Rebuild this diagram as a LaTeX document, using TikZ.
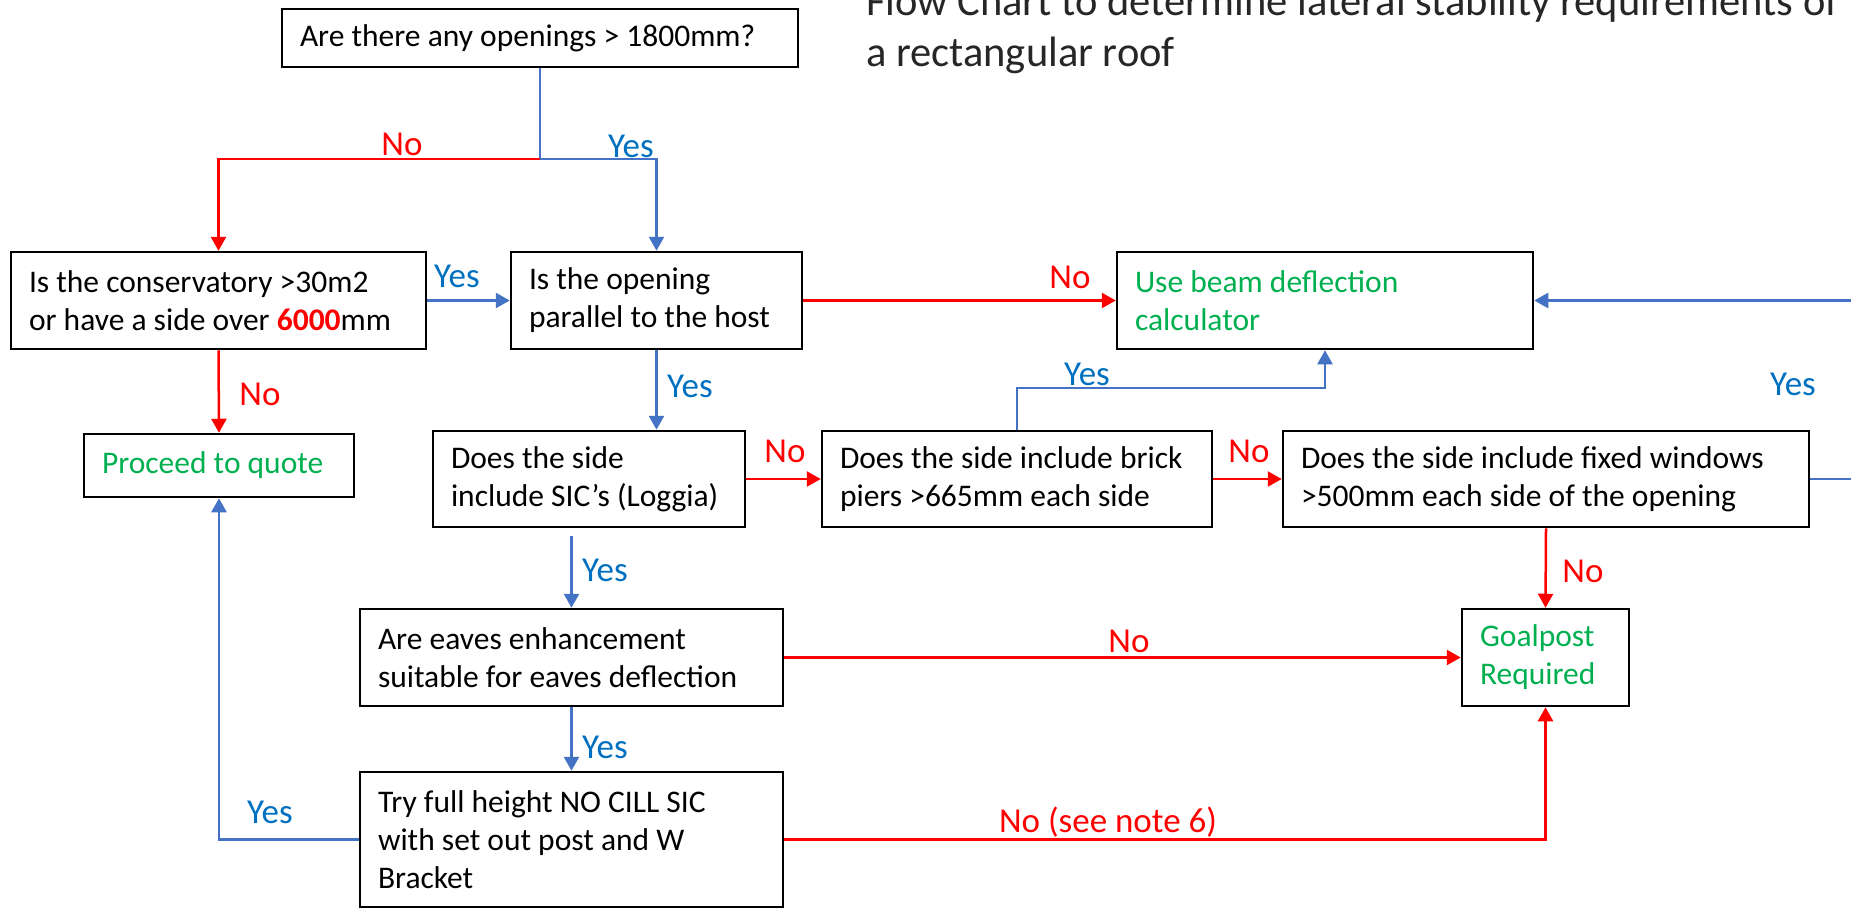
\documentclass[tikz,border=0pt]{standalone}
\usepackage{fontspec}
\setmainfont{Carlito}
\usetikzlibrary{arrows.meta,positioning,calc}
\definecolor{yesblue}{HTML}{4472C4}
\definecolor{yestext}{HTML}{0070C0}
\definecolor{goodgreen}{HTML}{00B050}

\begin{document}
\begin{tikzpicture}[
    x=1pt, y=-1pt,
    box/.style={rectangle, draw=black, line width=2.5pt, align=flush left, inner xsep=18pt, inner ysep=0pt, font=\fontsize{31.5}{38}\selectfont},
    good/.style={box, text=goodgreen},
    yesline/.style={draw=yesblue, line width=2.5pt},
    yesarrow/.style={yesline, -{Triangle[length=14pt, width=15pt]}},
    noarrow/.style={draw=red, line width=2.5pt, -{Triangle[length=14pt, width=15pt]}},
    yeslabel/.style={text=yestext, anchor=base, inner sep=0pt, font=\fontsize{35}{40}\selectfont},
    nolabel/.style={yeslabel, text=red}
]
    \path[use as bounding box, fill=white] (0,0) rectangle (1851,908);

    \node[anchor=base west, align=left, inner sep=0pt, font=\fontsize{42.5}{51}\selectfont, text=black!85] (title) at (866,66) {Flow Chart to determine lateral stability requirements of\\a rectangular roof};

    \node[box, minimum width=516, text width=480, minimum height=58] (top) at (540,38) {Are there any openings > 1800mm?};
    \node[box, minimum width=415, text width=379, minimum height=97] (cons) at (218.5,300.5) {Is the conservatory >30m2\\or have a side over {\bfseries\color{red}6000}mm};
    \node[box, minimum width=291, text width=255, minimum height=97] (par) at (656.5,300.5) {Is the opening\\parallel to the host};
    \node[good, minimum width=416, text width=380, minimum height=97] (beam) at (1325,300.5) {Use beam deflection\\calculator};
    \node[good, minimum width=270, text width=234, minimum height=63] (proceed) at (219,465.5) {Proceed to quote};
    \node[box, minimum width=312, text width=276, minimum height=96] (sic) at (589,479) {Does the side\\include SIC’s (Loggia)};
    \node[box, minimum width=390, text width=354, minimum height=96] (brick) at (1017,479) {Does the side include brick\\piers >665mm each side};
    \node[box, minimum width=526, text width=490, minimum height=96] (fixed) at (1546,479) {Does the side include fixed windows\\>500mm each side of the opening};
    \node[box, minimum width=423, text width=387, minimum height=97] (eaves) at (571.5,657.5) {Are eaves enhancement\\suitable for eaves deflection};
    \node[good, minimum width=167, text width=131, minimum height=97] (goal) at (1545.5,657.5) {Goalpost\\Required};
    \node[box, minimum width=423, text width=387, minimum height=135] (try) at (571.5,839.5) {Try full height NO CILL SIC\\with set out post and W\\Bracket};

    % connectors
    \coordinate (split) at (540,159);
    \draw[yesline] (top.south) -- (split);
    \draw[noarrow] (split) -| (cons.north);
    \draw[yesarrow] (split) -| (par.north);
    \draw[yesarrow] (cons.east) -- (par.west);
    \draw[noarrow] (cons.south) -- (proceed.north);
    \draw[yesarrow] (par.south) -- (par.south |- sic.north);
    \draw[noarrow] (par.east) -- (beam.west);
    \draw[noarrow] (sic.east) -- (brick.west);
    \draw[noarrow] (brick.east) -- (fixed.west);
    \draw[yesarrow] (brick.north) -- ++(0,-42) -| (beam.south);
    \draw[yesarrow] (fixed.east) -- ++(80,0) |- (beam.east);
    \draw[noarrow] (fixed.south) -- (goal.north);
    \draw[yesarrow, shorten <=8pt] (sic.south -| eaves.north) -- (eaves.north);
    \draw[noarrow] (eaves.east) -- (goal.west);
    \draw[yesarrow] (eaves.south) -- (try.north);
    \draw[yesarrow] (try.west) -| (proceed.south);
    \draw[noarrow] (try.east) -| (goal.south);

    % labels
    \node[nolabel] (no1) at (402,155) {No};
    \node[yeslabel] (yes1) at (631,157) {Yes};
    \node[yeslabel] (yes2) at (457,287) {Yes};
    \node[nolabel] (no2) at (260,405) {No};
    \node[yeslabel] (yes3) at (690,397) {Yes};
    \node[nolabel] (no3) at (1070,288) {No};
    \node[yeslabel] (yes4) at (1087,385) {Yes};
    \node[yeslabel] (yes5) at (1793,395) {Yes};
    \node[nolabel] (no4) at (785,462) {No};
    \node[nolabel] (no5) at (1249,462) {No};
    \node[nolabel] (no6) at (1583,582) {No};
    \node[nolabel] (no7) at (1129,652) {No};
    \node[yeslabel] (yes6) at (605,581) {Yes};
    \node[yeslabel] (yes7) at (605,758) {Yes};
    \node[yeslabel] (yes8) at (270,823) {Yes};
    \node[nolabel] (no8) at (1108,832) {No (see note 6)};
\end{tikzpicture}
\end{document}
